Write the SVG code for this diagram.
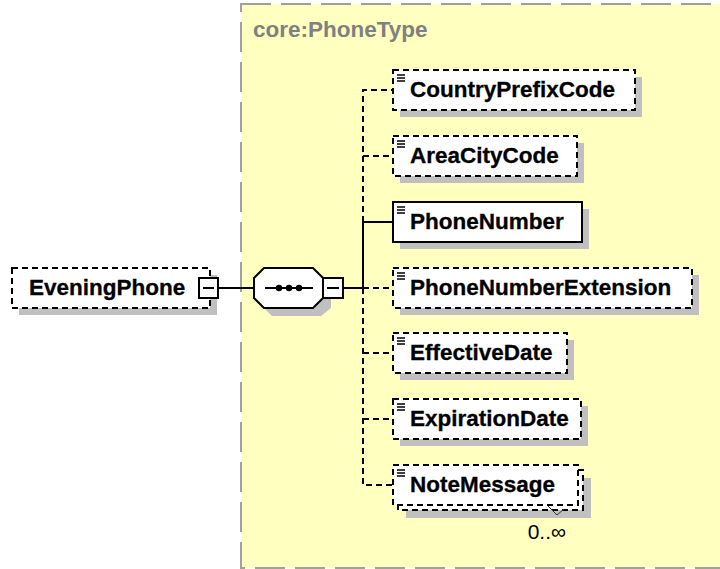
<svg xmlns="http://www.w3.org/2000/svg" width="720" height="569" viewBox="0 0 720 569">
<defs>
<style>
.bg{fill:#fff}
.cont{fill:#ffffc0;stroke:#a0a0a0;stroke-width:2;stroke-dasharray:30,10}
.sh{fill:#c0c0c0;stroke:none}
.box{fill:#fff;stroke:#000;stroke-width:2}
.dbox{fill:#fff;stroke:#000;stroke-width:2;stroke-dasharray:6,4}
.lbl{font-family:"Liberation Sans",Arial,sans-serif;font-weight:bold;font-size:22.5px;fill:#000;stroke:#000;stroke-width:0.3}
.type{font-family:"Liberation Sans",Arial,sans-serif;font-weight:bold;font-size:22.5px;fill:#808080}
.occ{font-family:"Liberation Sans",Arial,sans-serif;font-size:21px;fill:#000}
.ln{stroke:#000;stroke-width:2;fill:none}
.dln{stroke:#000;stroke-width:2;fill:none;stroke-dasharray:6,4}
.ic{stroke:#000;stroke-width:1.5;fill:none}
</style>
<g id="icon"><path class="ic" d="M4,5H12M4,8H12M4,11H12"/></g>
</defs>
<rect class="bg" x="0" y="0" width="720" height="569"/>
<g id="container">
<rect class="cont" x="241" y="4" width="500" height="564"/>
<text class="type" x="253" y="37">core:PhoneType</text>
</g>
<g id="connectors">
<path class="ln" d="M218,288H254"/>
<path class="ln" d="M343,288H363"/>
<path class="dln" d="M363,222V90H393"/>
<path class="dln" d="M363,156H393"/>
<path class="ln" d="M363,288V222H393"/>
<path class="dln" d="M363,288H393"/>
<path class="dln" d="M363,288V485H393"/>
<path class="dln" d="M363,353H393"/>
<path class="dln" d="M363,419H393"/>
</g>
<g id="EveningPhone">
<rect class="sh" x="19" y="275" width="198" height="40"/>
<rect class="dbox" x="12" y="268" width="198" height="40"/>
<text class="lbl" x="29" y="295">EveningPhone</text>
<rect class="box" x="199" y="278" width="19" height="20"/>
<path class="ln" d="M203,288H214"/>
</g>
<g id="sequence">
<polygon class="sh" points="272,276 323,276 331,284 331,308 321,316 272,316 262,306 262,286"/>
<polygon class="box" points="264,268 313,268 323,278 323,298 313,308 264,308 254,298 254,278"/>
<path class="ln" d="M265,288H313"/>
<circle cx="279" cy="288" r="3.2" fill="#000"/>
<circle cx="289" cy="288" r="3.2" fill="#000"/>
<circle cx="299" cy="288" r="3.2" fill="#000"/>
<rect class="box" x="323" y="278" width="20" height="20"/>
<path class="ln" d="M327,288H339"/>
</g>
<g id="CountryPrefixCode">
<rect class="sh" x="400" y="77" width="242" height="40"/>
<rect class="dbox" x="393" y="70" width="242" height="40"/>
<use href="#icon" x="393" y="70"/>
<text class="lbl" x="410" y="97">CountryPrefixCode</text>
</g>
<g id="AreaCityCode">
<rect class="sh" x="400" y="143" width="184" height="40"/>
<rect class="dbox" x="393" y="136" width="184" height="40"/>
<use href="#icon" x="393" y="136"/>
<text class="lbl" x="410" y="163">AreaCityCode</text>
</g>
<g id="PhoneNumber">
<rect class="sh" x="400" y="209" width="189" height="40"/>
<rect class="box" x="393" y="202" width="189" height="40"/>
<use href="#icon" x="393" y="202"/>
<text class="lbl" x="410" y="229">PhoneNumber</text>
</g>
<g id="PhoneNumberExtension">
<rect class="sh" x="400" y="275" width="299" height="40"/>
<rect class="dbox" x="393" y="268" width="299" height="40"/>
<use href="#icon" x="393" y="268"/>
<text class="lbl" x="410" y="295">PhoneNumberExtension</text>
</g>
<g id="EffectiveDate">
<rect class="sh" x="400" y="340" width="174" height="40"/>
<rect class="dbox" x="393" y="333" width="174" height="40"/>
<use href="#icon" x="393" y="333"/>
<text class="lbl" x="410" y="360">EffectiveDate</text>
</g>
<g id="ExpirationDate">
<rect class="sh" x="400" y="406" width="188" height="40"/>
<rect class="dbox" x="393" y="399" width="188" height="40"/>
<use href="#icon" x="393" y="399"/>
<text class="lbl" x="410" y="426">ExpirationDate</text>
</g>
<g id="NoteMessage">
<rect class="sh" x="406" y="478" width="185" height="40"/>
<rect class="dbox" x="398" y="470" width="185" height="40"/>
<rect class="dbox" x="393" y="465" width="185" height="40"/>
<use href="#icon" x="393" y="465"/>
<text class="lbl" x="410" y="492">NoteMessage</text>
<path d="M548,506L557,515L564,509" stroke="#333" stroke-width="1" fill="none"/>
<text class="occ" x="566" y="539" text-anchor="end">0..∞</text>
</g>
</svg>
